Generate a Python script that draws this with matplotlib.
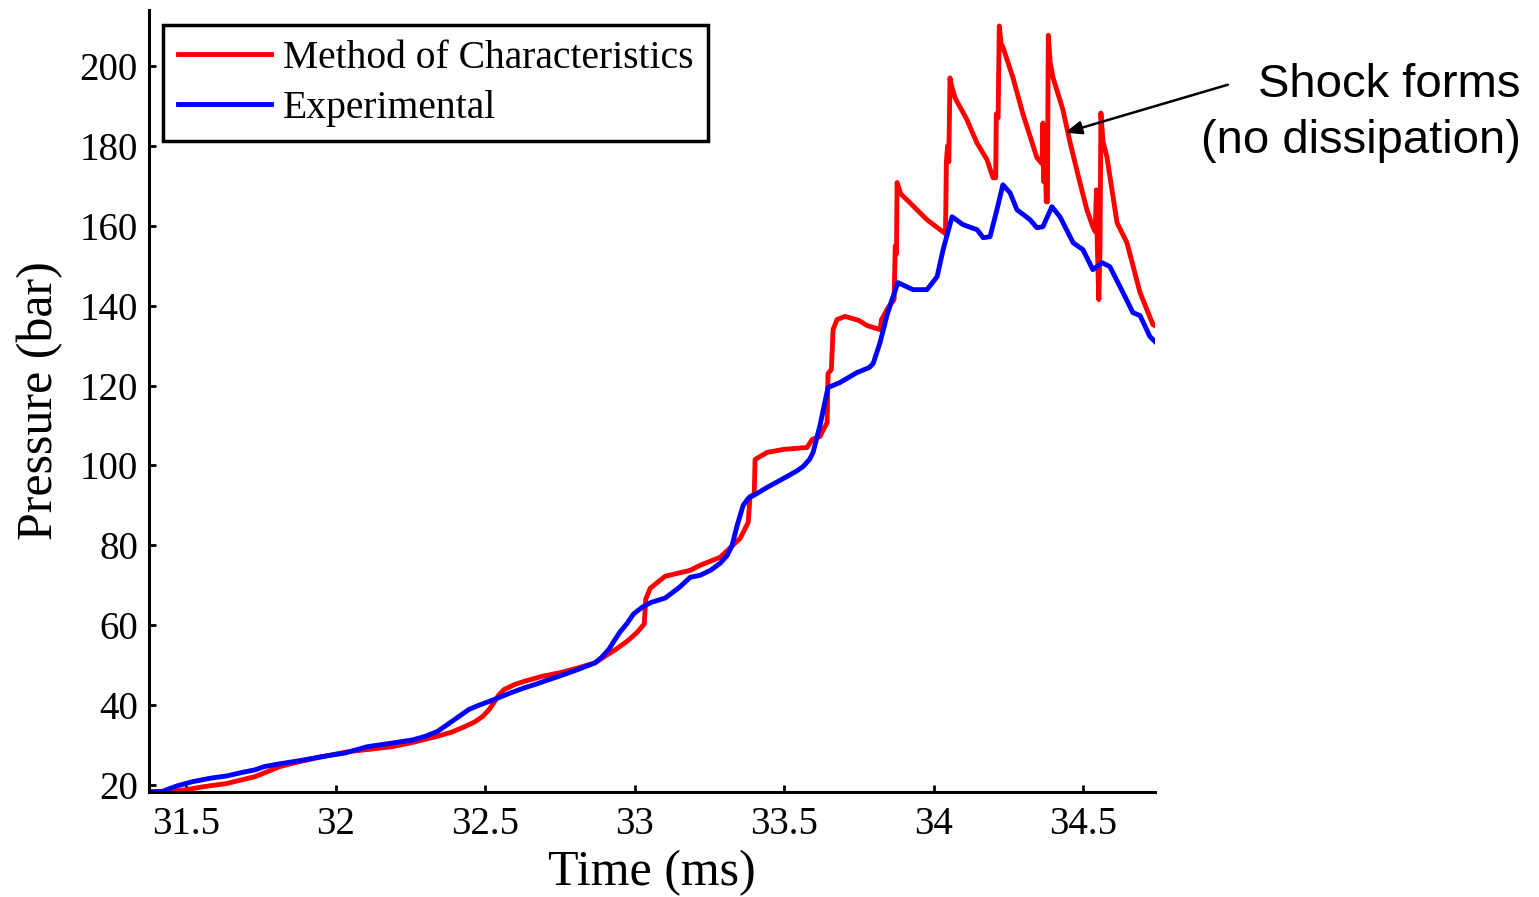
import matplotlib
matplotlib.use("Agg")
import matplotlib.pyplot as plt

# ---- data (time in ms, pressure in bar) ----
exp_t = [31.375, 31.42, 31.437, 31.47, 31.519, 31.58, 31.637, 31.69, 31.730, 31.76,
         31.812, 31.88, 31.953, 32.03, 32.106, 32.18, 32.258, 32.30, 32.340, 32.39,
         32.445, 32.48, 32.516, 32.55, 32.586, 32.63, 32.668, 32.71, 32.750, 32.81,
         32.868, 32.89, 32.914, 32.935, 32.950, 32.975, 32.996, 33.025, 33.055, 33.102,
         33.15, 33.186, 33.219, 33.255, 33.286, 33.310, 33.326, 33.343, 33.363, 33.380,
         33.41, 33.443, 33.48, 33.510, 33.54, 33.564, 33.585, 33.597, 33.620, 33.647,
         33.687, 33.744, 33.785, 33.798, 33.821, 33.844, 33.861, 33.881, 33.931, 33.978,
         34.012, 34.032, 34.062, 34.099, 34.146, 34.166, 34.189, 34.212, 34.232, 34.256,
         34.279, 34.323, 34.346, 34.366, 34.396, 34.423, 34.467, 34.500, 34.533, 34.564,
         34.590, 34.634, 34.667, 34.691, 34.724, 34.741]
exp_p = [18.3, 18.4, 18.9, 19.8, 20.8, 21.7, 22.3, 23.2, 23.8, 24.6,
         25.3, 26.1, 27.1, 28.0, 29.6, 30.4, 31.3, 32.2, 33.4, 36.0,
         38.9, 40.0, 41.0, 42.0, 43.1, 44.3, 45.2, 46.3, 47.3, 48.9,
         50.6, 52.0, 54.0, 56.5, 58.2, 60.5, 62.8, 64.5, 65.7, 66.8,
         69.5, 72.0, 72.5, 73.8, 75.5, 77.5, 80.0, 85.0, 90.0, 91.75,
         93.0, 94.5, 96.0, 97.25, 98.5, 99.75, 101.5, 103.25, 110.0, 119.5,
         120.75, 123.25, 124.5, 125.5, 130.75, 137.5, 141.5, 145.75, 144.0, 144.0,
         147.25, 154.0, 162.25, 160.25, 159.0, 157.0, 157.25, 164.0, 170.25, 168.25,
         164.0, 161.5, 159.5, 159.75, 164.75, 162.25, 155.75, 154.0, 149.0, 150.75,
         149.75, 143.25, 138.25, 137.5, 132.25, 131.0]

moc_t = [31.375, 31.44, 31.496, 31.56, 31.637, 31.68, 31.730, 31.77, 31.812, 31.87,
         31.930, 31.99, 32.047, 32.12, 32.188, 32.26, 32.340, 32.39, 32.434, 32.465,
         32.492, 32.512, 32.528, 32.545, 32.563, 32.60, 32.633, 32.69, 32.750, 32.81,
         32.868, 32.90, 32.938, 32.975, 33.008, 33.032, 33.037, 33.052, 33.102, 33.186,
         33.219, 33.286, 33.353, 33.380, 33.386, 33.400, 33.403, 33.443, 33.497, 33.577,
         33.594, 33.620, 33.644, 33.647, 33.658, 33.664, 33.677, 33.704, 33.750, 33.778,
         33.821, 33.826, 33.848, 33.868, 33.872, 33.876, 33.878, 33.890, 33.921, 33.978,
         34.022, 34.040, 34.043, 34.047, 34.051, 34.055, 34.060, 34.072, 34.112, 34.145,
         34.179, 34.199, 34.208, 34.210, 34.216, 34.220, 34.226, 34.232, 34.266, 34.299,
         34.346, 34.363, 34.366, 34.369, 34.373, 34.377, 34.381, 34.384, 34.390, 34.400,
         34.433, 34.457, 34.490, 34.513, 34.533, 34.541, 34.545, 34.548, 34.553, 34.557,
         34.560, 34.567, 34.580, 34.614, 34.647, 34.691, 34.734, 34.741]
moc_p = [18.3, 18.3, 18.8, 19.6, 20.4, 21.2, 22.1, 23.3, 24.6, 25.7,
         26.7, 27.6, 28.4, 29.0, 29.6, 30.7, 32.2, 33.3, 34.7, 35.8,
         37.2, 38.8, 40.5, 42.5, 43.9, 45.2, 46.0, 47.2, 48.1, 49.3,
         50.6, 52.2, 54.0, 56.0, 58.2, 60.3, 66.5, 69.25, 72.25, 73.75,
         75.0, 77.0, 81.75, 85.75, 92.25, 92.75, 101.5, 103.25, 104.0, 104.5,
         106.5, 107.25, 110.75, 123.0, 124.0, 134.0, 136.5, 137.3, 136.3, 135.0,
         134.0, 136.5, 139.5, 141.5, 155.0, 153.0, 170.8, 168.0, 165.75, 161.5,
         159.0, 158.0, 176.0, 180.0, 176.0, 197.0, 195.0, 192.0, 186.5, 180.75,
         176.5, 172.0, 172.0, 188.0, 187.0, 210.0, 205.5, 204.75, 197.0, 188.0,
         177.0, 175.5, 185.7, 171.0, 184.0, 166.0, 166.0, 207.7, 201.0, 197.0,
         189.0, 180.75, 170.75, 164.0, 159.75, 158.5, 169.0, 155.0, 141.5, 155.0,
         188.2, 181.0, 177.25, 160.75, 155.75, 143.25, 135.25, 135.0]

x_ticks = [31.5, 32, 32.5, 33, 33.5, 34, 34.5]
x_ticklabels = ["31.5", "32", "32.5", "33", "33.5", "34", "34.5"]
y_ticks = [20, 40, 60, 80, 100, 120, 140, 160, 180, 200]
series_labels = ["Method of Characteristics", "Experimental"]
annotation_text = "Shock forms\n(no dissipation)"

serif = ["Liberation Serif", "DejaVu Serif"]
sans = ["Liberation Sans", "DejaVu Sans"]
plt.rcParams["font.family"] = serif

fig = plt.figure(figsize=(15.39, 8.97), dpi=100)
ax = fig.add_axes([149 / 1539, 1 - 792 / 897, (1155 - 149) / 1539, (792 - 10) / 897])

ax.plot(moc_t, moc_p, color="#ff0000", lw=3.5, label=series_labels[0])
ax.plot(exp_t, exp_p, color="#0000ff", lw=3.5, label=series_labels[1])

ax.set_xlim(31.375, 34.741)
ax.set_ylim(18.25, 214)
ax.set_xticks(x_ticks)
ax.set_xticklabels(x_ticklabels)
ax.set_yticks(y_ticks)

for s in ["top", "right"]:
    ax.spines[s].set_visible(False)
for s in ["left", "bottom"]:
    ax.spines[s].set_linewidth(2.2)
ax.tick_params(direction="in", length=5, width=2, labelsize=28)
ax.tick_params(axis="x", pad=10)
ax.tick_params(axis="y", pad=8)

ax.set_xlabel("Time (ms)", fontsize=36, labelpad=5)
ax.set_ylabel("Pressure (bar)", fontsize=36, labelpad=12)

leg = ax.legend(loc="upper left", bbox_to_anchor=(0.0139, 0.981), borderaxespad=0,
                fontsize=28.5, handlelength=2.35, handletextpad=0.3, labelspacing=0.33,
                borderpad=0.37, fancybox=False, framealpha=1, edgecolor="black")
leg.get_frame().set_linewidth(2.5)

ax.annotate("", xy=(34.44, 183.3), xytext=(34.985, 195.3), xycoords="data",
            textcoords="data", annotation_clip=False,
            arrowprops=dict(arrowstyle="-|>,head_length=1.0,head_width=0.4",
                            color="black", lw=1.8, shrinkA=0, shrinkB=0))
fig.text(1521 / 1539, 1 - 113 / 897, annotation_text, ha="right", va="center",
         fontsize=34, family=sans, linespacing=1.38)

fig.savefig("out.png", dpi=100)
